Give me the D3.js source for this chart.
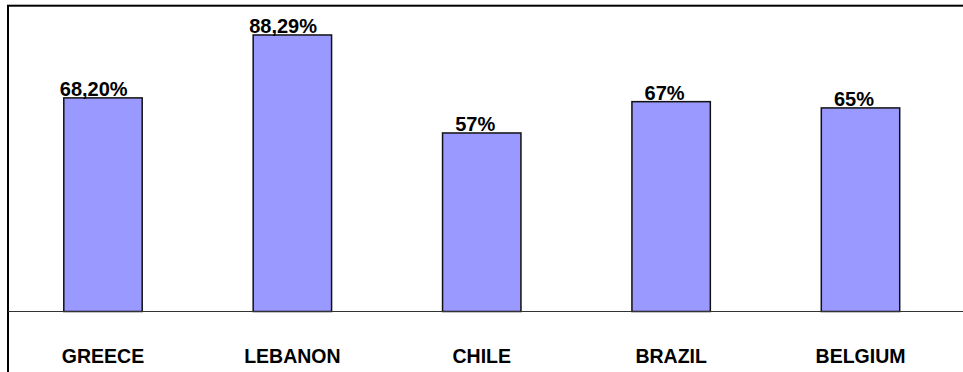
<!DOCTYPE html>
<html>
<head>
<meta charset="utf-8">
<script src="https://cdn.jsdelivr.net/npm/d3@7"></script>
<style>
  html, body { margin: 0; padding: 0; background: #fff; }
  svg { display: block; }
  text { font-family: "Liberation Sans", Arial, sans-serif; font-weight: bold; fill: #000; }
</style>
</head>
<body>
<svg id="chart" width="963" height="372"></svg>
<script>
const categories = ["GREECE", "LEBANON", "CHILE", "BRAZIL", "BELGIUM"];
const values = [68.20, 88.29, 57, 67, 65];
const valueLabels = ["68,20%", "88,29%", "57%", "67%", "65%"];

const svg = d3.select("#chart");
const W = 963, H = 372;
const baseY = 311.5;

// outer frame (extends beyond right/bottom edge of window)
svg.append("rect")
  .attr("x", 8).attr("y", 5.7)
  .attr("width", 980).attr("height", 400)
  .attr("fill", "none").attr("stroke", "#000").attr("stroke-width", 2);

const x = d3.scaleBand()
  .domain(categories)
  .range([8.3, 955.2])
  .paddingInner(0.586)
  .paddingOuter(0.293);

const y = d3.scaleLinear().domain([0, 100]).range([baseY, baseY - 313.2]);

const data = categories.map((c, i) => ({ c, v: values[i], label: valueLabels[i] }));

// bars
svg.append("g").selectAll("rect").data(data).join("rect")
  .attr("x", d => x(d.c))
  .attr("y", d => y(d.v))
  .attr("width", x.bandwidth())
  .attr("height", d => y(0) - y(d.v))
  .attr("fill", "#9999FF")
  .attr("stroke", "#111")
  .attr("stroke-width", 1.5);

// baseline
svg.append("line")
  .attr("x1", 8).attr("x2", W)
  .attr("y1", baseY).attr("y2", baseY)
  .attr("stroke", "#333").attr("stroke-width", 1.2);

// value labels
svg.append("g").selectAll("text").data(data).join("text")
  .attr("x", d => x(d.c) + x.bandwidth() / 2)
  .attr("y", d => y(d.v) - 2)
  .attr("text-anchor", "middle")
  .style("font-size", "20px")
  .text(d => d.label)
  .each(function () {
    const len = this.getComputedTextLength();
    d3.select(this).attr("dx", -(2.5 + 0.1 * len));
  });

// category axis labels
const axis = d3.axisBottom(x).tickSize(0).tickPadding(0);
const gAxis = svg.append("g").attr("transform", `translate(0, ${baseY})`).call(axis);
gAxis.select(".domain").remove();
gAxis.selectAll("text")
  .attr("y", 51)
  .attr("dy", 0)
  .style("font-size", "19.5px")
  .style("font-family", "'Liberation Sans', Arial, sans-serif")
  .style("font-weight", "bold")
  .attr("fill", "#000");
</script>
</body>
</html>
